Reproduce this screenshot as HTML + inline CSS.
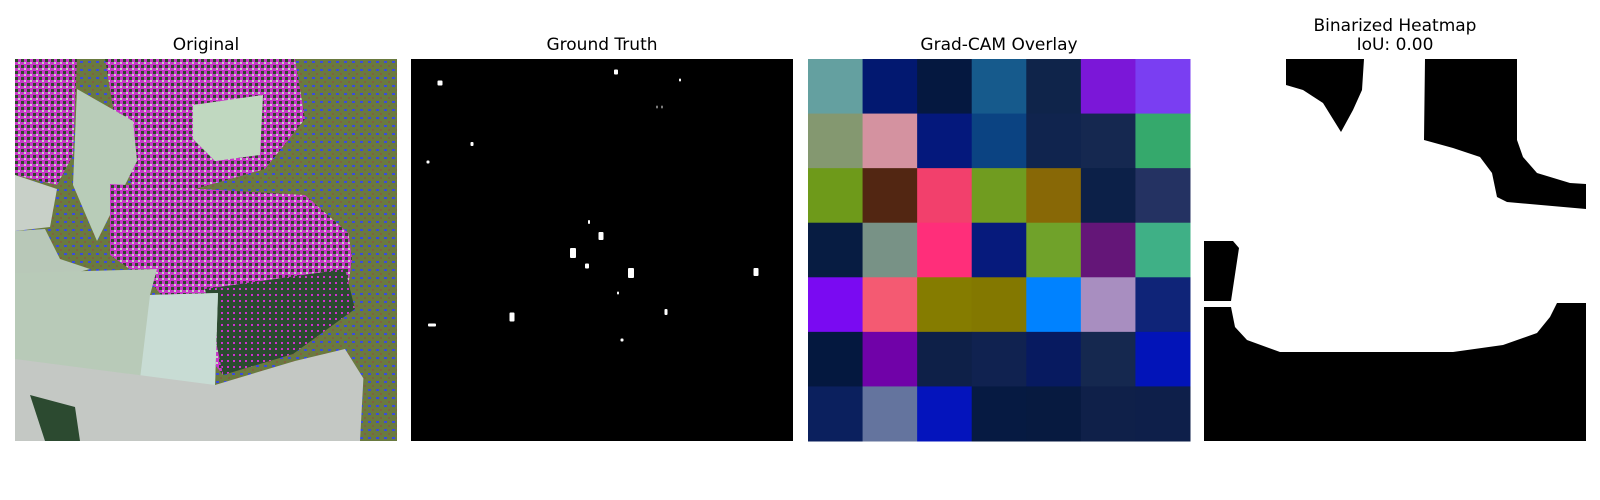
<!DOCTYPE html>
<html><head><meta charset="utf-8"><style>
html,body{margin:0;padding:0;background:#fff;}
svg{display:block;}
text{font-family:"DejaVu Sans","Liberation Sans",sans-serif;font-size:17px;fill:#000;}
</style></head><body>
<svg id="fig" width="1600" height="500" viewBox="0 0 1600 500">
<text x="206" y="50" text-anchor="middle">Original</text>
<text x="602" y="50" text-anchor="middle">Ground Truth</text>
<text x="999" y="50" text-anchor="middle">Grad-CAM Overlay</text>
<text x="1395" y="31" text-anchor="middle">Binarized Heatmap</text>
<text x="1395" y="50" text-anchor="middle">IoU: 0.00</text>

<g transform="translate(15,59)">
<defs>
<pattern id="mag" width="6" height="6" patternUnits="userSpaceOnUse"><rect width="6" height="6" fill="#c838c8"/><rect x="0" y="0" width="3" height="3" fill="#2e4a2a"/><rect x="3" y="3" width="2" height="2" fill="#c0d8c0"/></pattern>
<pattern id="oliv" width="8" height="8" patternUnits="userSpaceOnUse"><rect width="8" height="8" fill="#6a7a40"/><rect x="1" y="2" width="3" height="2" fill="#3a4ae0"/><rect x="5" y="6" width="2" height="2" fill="#806040"/></pattern>
<pattern id="dk" width="6" height="6" patternUnits="userSpaceOnUse"><rect width="6" height="6" fill="#2c4a30"/><rect x="2" y="1" width="2" height="2" fill="#d030d0"/></pattern>
</defs>
<rect width="382" height="382" fill="url(#oliv)"/>
<polygon points="90,0 280,0 290,60 250,110 180,130 120,140 100,60" fill="url(#mag)"/>
<polygon points="0,0 62,0 58,96 42,126 0,116" fill="url(#mag)"/>
<polygon points="62,30 118,62 122,102 82,182 58,126" fill="#b8ccb8"/>
<polygon points="178,46 248,36 245,96 200,102 178,80" fill="#c0d8c0"/>
<polygon points="95,125 290,136 340,180 330,248 278,290 208,316 140,228 95,196" fill="url(#mag)"/>
<polygon points="190,230 330,210 340,250 278,295 208,316" fill="url(#dk)"/>
<polygon points="0,116 42,130 35,168 0,172" fill="#c8d0c8"/>
<polygon points="0,172 30,170 45,200 75,210 0,230" fill="#b8c8b8"/>
<polygon points="0,214 142,210 135,236 203,234 200,326 112,330 0,382" fill="#b8cab8"/>
<polygon points="135,236 203,234 200,326 125,320" fill="#c8dcd4"/>
<polygon points="0,300 200,326 280,302 330,290 355,330 382,320 382,382 0,382" fill="#c4c8c4"/>
<polygon points="15,336 60,348 65,382 30,382" fill="#2c4a30"/>
<polygon points="330,150 382,140 382,382 345,382 350,290" fill="url(#oliv)"/>
</g>

<g transform="translate(411,59)">
<rect width="382" height="382" fill="#000"/>
<g id="gt-spots" fill="#fff"></g>
</g>

<g transform="translate(808,59)">
<g id="cam"></g>
</g>

<g transform="translate(1204,59)">
<rect width="382" height="382" fill="#fff"/>
<polygon fill="#000" points="82,0 160,0 158,31 149,51 137,73 119,44 99,31 82,26"/>
<polygon fill="#000" points="221,0 313,0 313,81 319,98 333,114 366,124 382,125 382,150 303,143 293,138 288,114 276,98 249,89 220,81"/>
<polygon fill="#000" points="0,182 29,182 35,189 27,242 0,242"/>
<polygon fill="#000" points="0,248 27,248 31,268 43,281 76,293 249,293 299,286 333,274 346,258 353,244 382,244 382,382 0,382"/>
</g>
</svg>
<script>
const camColors = [
 ["#64a0a0","#021870","#051840","#165a8c","#0f244a","#7b17d8","#7a3ef2"],
 ["#849870","#d492a0","#04187c","#0b4382","#10244e","#152850","#35a96c"],
 ["#6e9a1a","#522612","#f2406c","#709c20","#886806","#0c2048","#243262"],
 ["#071c42","#789286","#ff2e7a","#061a7c","#70a22a","#641678","#3fb086"],
 ["#7a0af2","#f45a72","#857c00","#837800","#0082ff","#a88ec0","#0f2478"],
 ["#04183f","#7002a8","#0e2048","#102250","#071a60","#15284f","#0214b8"],
 ["#0b205e","#64749e","#0414bc","#061a42","#071a40","#0f2049","#0e1f4a"]
];
const spotX = [29,205,269,246,251,61,17,178,190,162,176,220,345,207,255,101,21,211];
const spotY = [24,13,21,48,48,85,103,163,177,194,207,214,213,234,253,258,266,281];
const spotW = [5,4,2,1,1,3,3,2,5,6,4,6,5,2,3,5,8,3];
const spotH = [5,5,3,3,3,4,3,4,8,10,5,10,8,3,6,9,3,3];
const NS = "http://www.w3.org/2000/svg";
const cam = document.getElementById("cam");
const n = camColors.length, cell = 382 / n;
camColors.forEach((row, r) => row.forEach((c, k) => {
  const el = document.createElementNS(NS, "rect");
  el.setAttribute("x", k * cell); el.setAttribute("y", r * cell);
  el.setAttribute("width", cell + 0.5); el.setAttribute("height", cell + 0.5);
  el.setAttribute("fill", c);
  
  
  cam.appendChild(el);
}));
const gt = document.getElementById("gt-spots");
spotX.forEach((x, i) => {
  const el = document.createElementNS(NS, "rect");
  el.setAttribute("x", x - spotW[i] / 2); el.setAttribute("y", spotY[i] - spotH[i] / 2);
  el.setAttribute("width", spotW[i]); el.setAttribute("height", spotH[i]);
  el.setAttribute("rx", 1);
  
  
  gt.appendChild(el);
});
</script>
</body></html>
